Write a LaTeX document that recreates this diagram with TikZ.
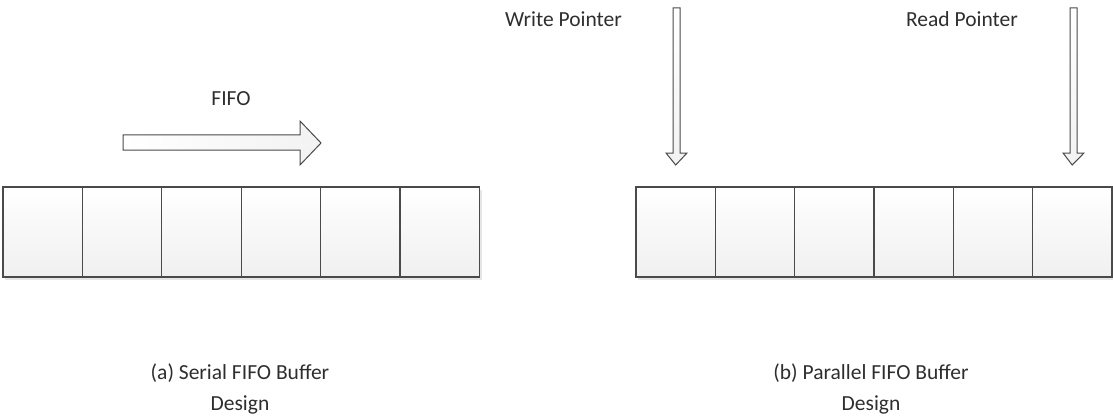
\documentclass[tikz,border=0pt]{standalone}
\usepackage{fontspec}
\setmainfont{Carlito}
\definecolor{edge}{HTML}{4A4A4A}
\definecolor{txt}{HTML}{2E2E2E}
\tikzset{
  cellbox/.style={draw=edge, line width=1.3pt, top color=white, bottom color=black!6,
    minimum width=79.4pt, minimum height=90pt, inner sep=0pt, outer sep=0pt},
  rowshadow/.style={fill=black, opacity=0.10},
  blockarrow/.style={draw=edge, line width=1pt, left color=white, right color=black!5, line join=miter},
  lbl/.style={text=txt, font=\fontsize{21.5}{26}\selectfont, inner sep=0pt},
  captext/.style={text=txt, font=\fontsize{21.5}{31}\selectfont, align=center, inner sep=0pt}
}
\begin{document}
\begin{tikzpicture}[x=1pt,y=-1pt]
\useasboundingbox (0,0) rectangle (1113,417);
% row shadows
\fill[rowshadow] (5,190) rectangle (482,280);
\fill[rowshadow] (638,190) rectangle (1113,280);
% left array
\foreach \i in {0,...,5} {
  \node[cellbox, anchor=north west] (L\i) at ({3+79.4*\i},187) {};
}
% right array
\foreach \i in {0,...,5} {
  \node[cellbox, anchor=north west] (R\i) at ({636+79.3*\i},187) {};
}
% FIFO arrow
\node[lbl, anchor=base] (fifo) at (231,106) {FIFO};
\draw[blockarrow] (123,135) -- (300,135) -- (300,121) -- (321,143) -- (300,165) -- (300,150) -- (123,150) -- cycle;
% write pointer
\node[lbl, anchor=base west] (wp) at (505,27) {Write Pointer};
\coordinate (wtip) at ([yshift=22pt]R0.north);
\draw[blockarrow, top color=white, bottom color=black!5] (673,8) -- (680,8) -- (680,153) -- (687,153) -- (wtip) -- (666,153) -- (673,153) -- cycle;
% read pointer
\node[lbl, anchor=base east] (rp) at (1018,27) {Read Pointer};
\coordinate (rtip) at ([yshift=22pt]R5.north);
\draw[blockarrow, top color=white, bottom color=black!5] (1070,8) -- (1077,8) -- (1077,153) -- (1084,153) -- (rtip) -- (1063,153) -- (1070,153) -- cycle;
% captions
\node[captext] (capa) at (240,389) {(a) Serial FIFO Buffer\\Design};
\node[captext] (capb) at (871,389) {(b) Parallel FIFO Buffer\\Design};
\end{tikzpicture}
\end{document}
